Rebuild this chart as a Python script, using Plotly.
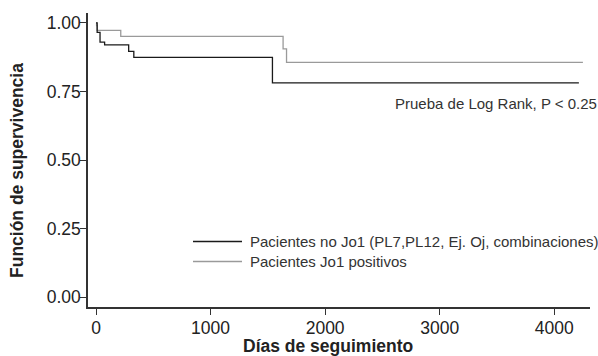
import plotly.graph_objects as go

# Kaplan-Meier step data (days, survival)
days_nojo1 = [0, 10, 35, 75, 285, 330, 1540, 4215]
surv_nojo1 = [1.0, 0.965, 0.930, 0.920, 0.896, 0.874, 0.781, 0.781]

days_jo1 = [0, 5, 10, 216, 1633, 1663, 4250]
surv_jo1 = [1.0, 0.99, 0.973, 0.951, 0.905, 0.856, 0.856]

name_nojo1 = "Pacientes no Jo1 (PL7,PL12, Ej. Oj, combinaciones)"
name_jo1 = "Pacientes Jo1 positivos"

x_ticks = [0, 1000, 2000, 3000, 4000]
y_ticks = [0, 0.25, 0.5, 0.75, 1.0]

FONT = "Liberation Sans, Arial, Helvetica, sans-serif"
BLACK = "#1a1a1a"
GRAY = "#9a9a9a"

fig = go.Figure()
fig.add_trace(go.Scatter(x=days_jo1, y=surv_jo1, mode="lines", line_shape="hv",
                         line=dict(color=GRAY, width=1.3), name=name_jo1))
fig.add_trace(go.Scatter(x=days_nojo1, y=surv_nojo1, mode="lines", line_shape="hv",
                         line=dict(color=BLACK, width=1.3), name=name_nojo1))

fig.update_layout(
    width=598, height=356,
    margin=dict(l=88, r=8, t=13, b=49),
    paper_bgcolor="white", plot_bgcolor="white",
    showlegend=False,
    font=dict(family=FONT, color="#222"),
    xaxis=dict(range=[-70, 4312], tickvals=x_ticks, ticks="outside", ticklen=6,
               tickcolor="#333", tickwidth=1, showline=True, linecolor="#333", linewidth=1.5,
               showgrid=False, zeroline=False, ticklabelstandoff=-2,
               tickfont=dict(size=17.5, family=FONT, color="#222")),
    yaxis=dict(range=[-0.036, 1.036], tickvals=y_ticks, tickformat=".2f", ticks="outside",
               ticklen=6, tickcolor="#333", tickwidth=1, showline=True, linecolor="#333",
               linewidth=1.5, showgrid=False, zeroline=False, ticklabelstandoff=-4,
               tickfont=dict(size=17.5, family=FONT, color="#222")),
)

# axis titles
fig.add_annotation(text="<b>Días de seguimiento</b>", xref="paper", yref="paper",
                   x=(328 - 88) / 502, y=-(346 - 307) / 294, showarrow=False,
                   xanchor="center", yanchor="middle", font=dict(size=17.5, family=FONT, color="#222"))
fig.add_annotation(text="<b>Función de supervivencia</b>", xref="paper", yref="paper",
                   x=-(88 - 17) / 502, y=(307 - 171) / 294, textangle=-90, showarrow=False,
                   xanchor="center", yanchor="middle", font=dict(size=17.5, family=FONT, color="#222"))

# log rank text
fig.add_annotation(text="Prueba de Log Rank, P < 0.25", xref="paper", yref="paper",
                   x=(393 - 88) / 502, y=(307 - 103) / 294, showarrow=False,
                   xanchor="left", yanchor="middle", font=dict(size=15, family=FONT, color="#333"))

# manual legend
legend_rows = [(name_nojo1, BLACK, 241.5), (name_jo1, GRAY, 261.5)]
for label, col, py in legend_rows:
    yp = (307 - py) / 294
    fig.add_shape(type="line", xref="paper", yref="paper",
                  x0=(193 - 88) / 502, x1=(242 - 88) / 502, y0=yp, y1=yp,
                  line=dict(color=col, width=1.5))
    fig.add_annotation(text=label, xref="paper", yref="paper", x=(248 - 88) / 502, y=yp,
                       showarrow=False, xanchor="left", yanchor="middle",
                       font=dict(size=15, family=FONT, color="#333"))

fig.write_html("out.html")
